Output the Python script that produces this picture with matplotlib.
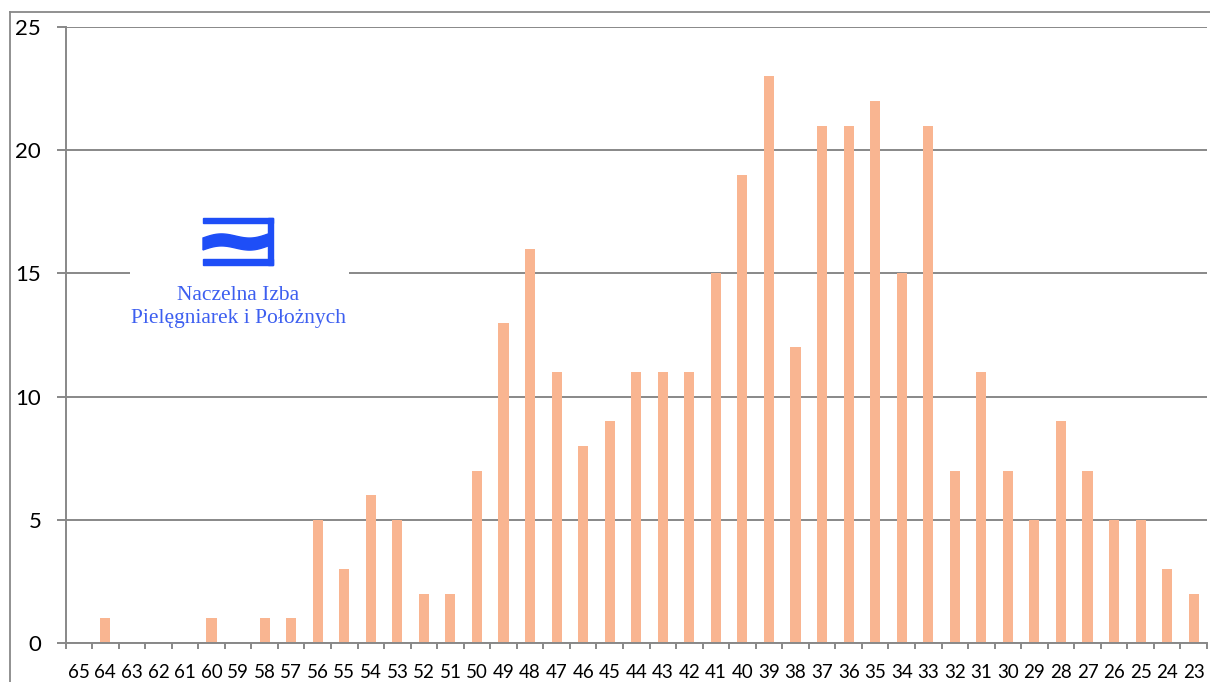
import matplotlib
matplotlib.use("Agg")
import matplotlib.pyplot as plt
import numpy as np
from matplotlib.patches import Rectangle, Polygon
from matplotlib.lines import Line2D

ages = [str(a) for a in range(65, 22, -1)]
counts = [0, 1, 0, 0, 0, 1, 0, 1, 1, 5, 3, 6, 5, 2, 2, 7, 13, 16, 11, 8, 9, 11, 11, 11,
          15, 19, 23, 12, 21, 21, 22, 15, 21, 7, 11, 7, 5, 9, 7, 5, 5, 3, 2]
y_ticks = [0, 5, 10, 15, 20, 25]

W, H = 1210, 682
fig = plt.figure(figsize=(W / 100, H / 100), dpi=100)
fig.patch.set_facecolor("white")

grid_c = "#888888"

# outer chart frame (partially cropped)
fig.add_artist(Line2D([10 / W, 10 / W], [-0.1, 1 - 12 / H], transform=fig.transFigure,
                      color=grid_c, lw=1.3))
fig.add_artist(Line2D([10 / W, 1.1], [1 - 12 / H, 1 - 12 / H], transform=fig.transFigure,
                      color=grid_c, lw=1.3))

left, right = 65.5 / W, 1207 / W
bottom, top = 1 - 643 / H, 1 - 27 / H
ax = fig.add_axes([left, bottom, right - left, top - bottom])

x = np.arange(len(ages))
ax.bar(x, counts, width=0.38, color="#F9B591", zorder=2)

ax.set_xlim(-0.5, len(ages) - 0.5)
ax.set_ylim(0, 25)
ax.set_yticks(y_ticks)
ax.set_yticklabels([str(v) for v in y_ticks], fontsize=16, family="Lato")
ax.set_xticks(x)
ax.set_xticklabels(ages, fontsize=13.5, family="Lato")
ax.set_xticks(np.arange(-0.5, len(ages), 1), minor=True)

ax.yaxis.grid(True, color=grid_c, lw=1.4, zorder=0)
ax.set_axisbelow(True)
for s in ["top", "right"]:
    ax.spines[s].set_visible(False)
for s in ["left", "bottom"]:
    ax.spines[s].set_color(grid_c)
    ax.spines[s].set_linewidth(1.4)

ax.tick_params(axis="y", length=6.5, width=1.4, color=grid_c, pad=11, direction="out")
ax.tick_params(axis="x", which="major", length=0, pad=15)
ax.tick_params(axis="x", which="minor", length=4, width=1.4, color=grid_c, direction="out")

# logo overlay (pixel coordinates)
lx0, lx1, ly0, ly1 = 130, 349, 200, 336
lax = fig.add_axes([lx0 / W, 1 - ly1 / H, (lx1 - lx0) / W, (ly1 - ly0) / H])
lax.set_xlim(lx0, lx1)
lax.set_ylim(ly1, ly0)
lax.axis("off")
lax.add_patch(Rectangle((lx0, ly0), lx1 - lx0, ly1 - ly0, color="white", zorder=0))

icon_c = "#1E4EF7"
lax.add_patch(Rectangle((203, 218), 70, 5, color=icon_c, zorder=1))
lax.add_patch(Rectangle((268, 218), 5, 47, color=icon_c, zorder=1))
lax.add_patch(Rectangle((203, 259), 70, 6, color=icon_c, zorder=1))
t = np.linspace(0, 1, 60)
xs = 203 + 65 * t
yc = 242 - 3 * np.sin(2 * np.pi * t * 1.0) - 4 * t + 2
upper = yc - 6
lower = yc + 6
poly = np.vstack([np.column_stack([xs, upper]), np.column_stack([xs[::-1], lower[::-1]])])
lax.add_patch(Polygon(poly, closed=True, color=icon_c, zorder=1))

txt_c = "#3D5FF0"
lax.text(238.5, 296, "Naczelna Izba", ha="center", va="center", fontsize=15.5,
         family="Liberation Serif", color=txt_c)
lax.text(238.5, 319, "Pielęgniarek i Położnych", ha="center", va="center", fontsize=15.5,
         family="Liberation Serif", color=txt_c)

fig.savefig("out.png", dpi=100, facecolor="white")
